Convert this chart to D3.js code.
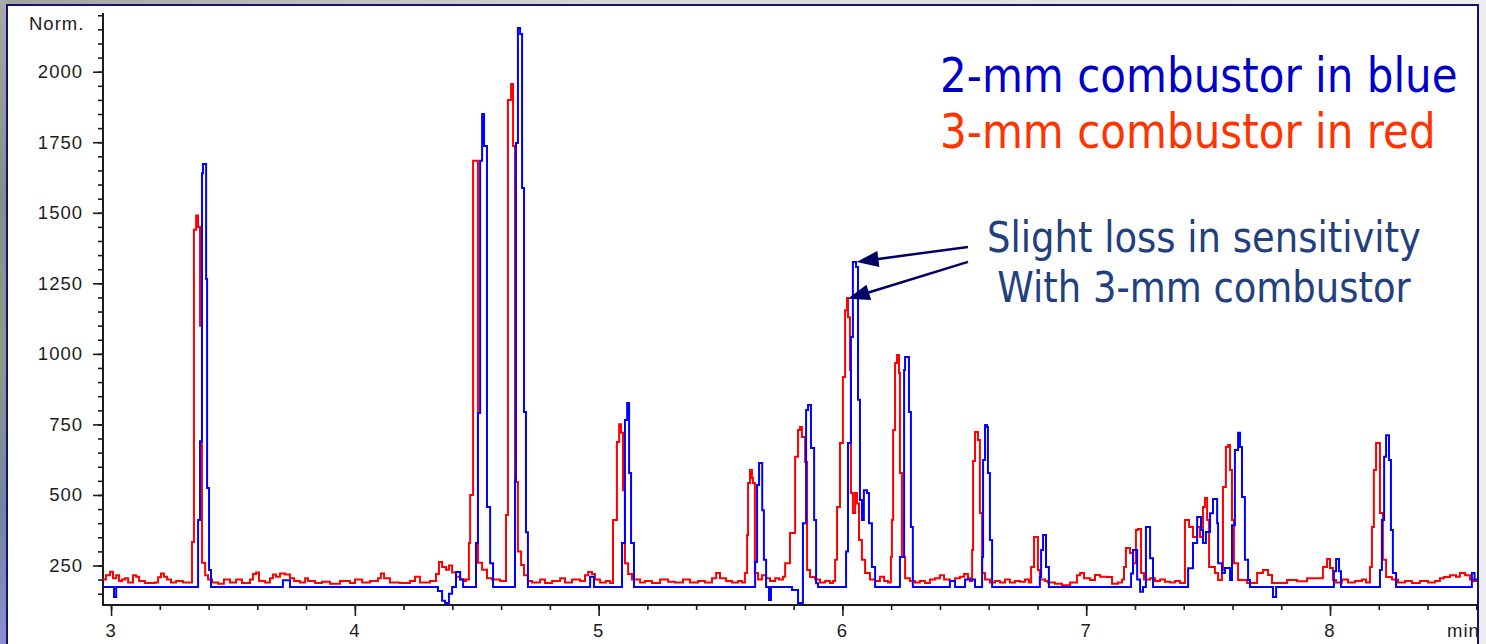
<!DOCTYPE html>
<html>
<head>
<meta charset="utf-8">
<script src="https://cdn.jsdelivr.net/npm/d3@7"></script>
<style>
  html, body { margin: 0; padding: 0; background: #fff; overflow: hidden; }
  svg { display: block; }
</style>
</head>
<body>
<svg id="chart" width="1486" height="644"></svg>
<script>
// FID chromatograms, [retention time (min), detector response (Norm.)]
const blueTrace = [
  [2.967,174],[3.012,138],[3.021,174],
  [3.357,411],[3.365,690],[3.373,1640],[3.377,1673],[3.390,1265],[3.394,525],[3.402,234],[3.410,174],
  [3.705,198],[3.734,174],
  [4.341,160],[4.358,125],[4.370,117],[4.386,150],[4.399,174],[4.415,227],[4.432,200],[4.444,174],
  [4.497,330],[4.505,790],[4.514,1684],[4.522,1850],[4.530,1737],[4.542,457],[4.555,258],[4.567,174],
  [4.657,553],[4.661,1747],[4.669,2155],[4.678,2134],[4.686,1588],[4.694,794],[4.702,368],[4.710,174],
  [4.965,210],[4.981,174],
  [5.096,330],[5.108,766],[5.117,826],[5.125,578],[5.133,330],[5.145,174],
  [5.642,262],[5.650,535],[5.658,613],[5.671,446],[5.678,270],[5.687,174],[5.699,128],[5.707,174],
  [5.793,163],[5.818,117],[5.838,400],[5.851,801],[5.859,819],[5.871,666],[5.884,411],[5.892,187],[5.900,174],
  [6.015,300],[6.023,684],[6.035,1060],[6.043,1326],[6.056,1308],[6.064,837],[6.072,482],[6.080,411],
  [6.088,517],[6.101,507],[6.109,400],[6.121,245],[6.134,174],
  [6.236,280],[6.253,943],[6.257,989],[6.273,794],[6.281,386],[6.289,174],
  [6.441,195],[6.462,174],[6.503,200],[6.544,174],
  [6.573,280],[6.577,624],[6.585,748],[6.593,741],[6.597,578],[6.605,340],[6.614,174],
  [6.810,209],[6.815,305],[6.823,358],[6.835,245],[6.847,174],
  [7.184,222],[7.192,305],[7.209,200],[7.221,157],[7.233,174],[7.245,386],[7.262,276],[7.274,174],
  [7.418,240],[7.438,330],[7.455,422],[7.471,376],[7.479,330],[7.491,369],[7.508,435],[7.520,486],
  [7.537,400],[7.541,258],[7.557,223],[7.569,241],[7.590,199],
  [7.598,393],[7.610,659],[7.623,720],[7.631,670],[7.639,493],[7.651,270],[7.664,199],[7.672,174],
  [7.766,138],[7.779,174],
  [8.016,230],[8.025,273],[8.037,230],[8.045,174],
  [8.205,234],[8.213,411],[8.222,635],[8.230,712],[8.242,624],[8.250,376],[8.258,223],[8.271,174],
  [8.582,223],[8.593,200],[8.603,200]
];

const redTrace = [
  [2.967,200],[2.979,215],[2.996,228],[3.008,205],[3.021,215],[3.033,195],[3.045,200],[3.057,205],
  [3.070,190],[3.090,215],[3.103,210],[3.115,195],[3.139,188],[3.180,190],[3.193,208],[3.205,222],
  [3.217,210],[3.230,200],[3.246,190],[3.267,195],[3.295,190],[3.324,190],
  [3.332,333],[3.340,1440],[3.349,1490],[3.357,1450],[3.365,1100],[3.373,260],[3.386,215],[3.398,200],[3.414,190],
  [3.439,185],[3.463,200],[3.488,190],[3.513,200],[3.537,188],[3.570,200],[3.582,220],[3.595,225],
  [3.607,195],[3.632,190],[3.652,205],[3.664,218],[3.677,210],[3.693,222],[3.714,218],[3.734,205],
  [3.751,195],[3.775,190],[3.796,205],[3.808,195],[3.837,188],[3.865,192],[3.898,185],[3.939,195],
  [3.980,188],[4.001,200],[4.030,190],[4.062,195],[4.095,205],[4.107,222],[4.120,205],[4.144,190],
  [4.185,188],[4.226,195],[4.247,210],[4.267,190],[4.308,195],[4.333,220],[4.345,262],[4.358,245],
  [4.374,235],[4.386,250],[4.399,225],[4.415,210],[4.432,200],[4.448,195],[4.456,200],
  [4.468,330],[4.473,500],[4.485,1684],[4.505,260],[4.522,235],[4.542,205],[4.563,200],[4.596,195],
  [4.620,429],[4.628,1900],[4.641,1956],[4.649,1737],[4.657,546],[4.669,300],[4.682,252],[4.694,215],[4.710,195],
  [4.727,190],[4.760,200],[4.780,188],[4.809,195],[4.842,205],[4.862,190],[4.891,200],[4.924,195],
  [4.944,215],[4.957,227],[4.973,220],[4.985,200],[5.006,190],[5.030,195],[5.047,188],
  [5.059,411],[5.075,688],[5.084,751],[5.092,720],[5.100,517],[5.108,258],[5.121,220],[5.137,200],[5.170,190],
  [5.190,195],[5.219,188],[5.252,200],[5.285,192],[5.313,190],[5.346,200],[5.375,190],[5.408,195],
  [5.436,190],[5.465,205],[5.482,223],[5.498,205],[5.523,195],[5.547,190],[5.572,195],[5.588,190],
  [5.600,223],[5.609,358],[5.613,542],[5.621,588],[5.629,560],[5.633,542],[5.641,223],[5.654,200],
  [5.670,215],[5.687,205],[5.703,195],[5.724,205],[5.740,200],[5.756,210],
  [5.765,258],[5.785,365],[5.806,635],[5.818,730],[5.826,741],[5.834,705],[5.847,617],[5.855,234],
  [5.867,209],[5.888,200],[5.908,190],[5.929,195],[5.949,188],[5.961,195],
  [5.970,270],[5.978,457],[5.990,684],[6.002,918],[6.011,1155],[6.019,1198],[6.023,1130],[6.031,943],
  [6.035,507],[6.043,436],[6.052,507],[6.060,470],[6.068,340],[6.080,270],[6.093,223],[6.113,200],
  [6.134,195],[6.154,210],[6.171,195],[6.187,190],
  [6.199,280],[6.203,411],[6.208,730],[6.216,968],[6.224,996],[6.232,932],[6.236,578],[6.244,280],
  [6.257,205],[6.277,195],[6.298,190],[6.318,195],[6.339,188],[6.359,200],[6.380,205],[6.400,215],
  [6.417,200],[6.441,195],[6.462,205],[6.482,210],[6.499,220],[6.515,205],[6.523,195],
  [6.532,305],[6.536,620],[6.544,723],[6.556,695],[6.564,436],[6.573,223],[6.585,200],[6.605,190],
  [6.626,195],[6.646,190],[6.667,200],[6.687,190],[6.708,195],[6.728,192],[6.749,200],[6.765,190],
  [6.774,245],[6.786,351],[6.802,234],[6.810,200],[6.831,195],[6.843,190],[6.872,185],[6.901,180],
  [6.934,190],[6.962,215],[6.975,223],[6.991,205],[7.016,199],[7.036,216],[7.057,210],[7.085,209],
  [7.106,185],[7.130,190],[7.147,200],
  [7.155,245],[7.163,312],[7.180,294],[7.192,258],[7.204,376],[7.212,379],[7.225,223],[7.237,200],
  [7.262,205],[7.282,195],[7.303,200],[7.323,192],[7.344,190],[7.364,195],[7.385,188],
  [7.405,411],[7.422,386],[7.438,351],[7.455,386],[7.467,351],[7.479,457],[7.487,489],[7.496,411],
  [7.504,245],[7.528,223],[7.541,199],[7.557,234],
  [7.561,528],[7.573,670],[7.582,677],[7.590,588],[7.598,411],[7.606,258],[7.623,199],[7.660,188],
  [7.701,223],[7.725,234],[7.746,216],[7.762,188],[7.795,188],[7.824,199],[7.865,194],[7.906,205],[7.947,205],
  [7.971,245],[7.988,273],[8.000,241],[8.012,199],[8.025,190],[8.049,200],[8.074,190],[8.102,195],
  [8.131,200],[8.148,190],
  [8.164,245],[8.172,386],[8.180,588],[8.189,684],[8.205,436],[8.217,270],[8.230,209],[8.254,200],
  [8.279,190],[8.308,195],[8.336,188],[8.369,195],[8.402,190],[8.431,195],[8.451,205],[8.467,209],
  [8.492,215],[8.517,210],[8.533,223],[8.554,215],[8.574,200],[8.590,195],[8.603,195]
];

const timeTicks = [3, 4, 5, 6, 7, 8];
const signalTicks = [250, 500, 750, 1000, 1250, 1500, 1750, 2000];
const legendLines = [
  { text: "2-mm combustor in blue", color: "#0000c8" },
  { text: "3-mm combustor in red", color: "#ff3300" }
];
const noteLines = ["Slight loss in sensitivity", "With 3-mm combustor"];
// arrow tails and heads, in [min, Norm.]
const noteArrows = [
  { from: [6.515, 1379], to: [6.058, 1326] },
  { from: [6.515, 1326], to: [6.022, 1195] }
];

const W = 1486, H = 644;
const svg = d3.select("#chart");
const defs = svg.append("defs");

// slide backdrop behind the chart frame
const bg = defs.append("linearGradient").attr("id", "slideBg")
  .attr("x1", 0).attr("y1", 0).attr("x2", 0).attr("y2", 1);
[["0", "#a9aaa8"], ["0.3", "#858c90"], ["0.55", "#8e9a8c"], ["0.8", "#7483a6"], ["1", "#8c8fd0"]]
  .forEach(([o, c]) => bg.append("stop").attr("offset", o).attr("stop-color", c));
const topBg = defs.append("linearGradient").attr("id", "slideTop")
  .attr("x1", 0).attr("y1", 0).attr("x2", 1).attr("y2", 0);
[["0", "#a0a2a0"], ["0.4", "#d6d6d6"], ["1", "#eeeeee"]]
  .forEach(([o, c]) => topBg.append("stop").attr("offset", o).attr("stop-color", c));

svg.append("rect").attr("width", W).attr("height", H).attr("fill", "#ececef");
svg.append("rect").attr("width", W).attr("height", 6).attr("fill", "url(#slideTop)");
svg.append("rect").attr("width", 8).attr("height", H).attr("fill", "url(#slideBg)");

// chart frame
svg.append("rect")
  .attr("x", 7).attr("y", 5).attr("width", 1471).attr("height", 660)
  .attr("fill", "#fff").attr("stroke", "#14146e").attr("stroke-width", 2);

const x = d3.scaleLinear().domain([2.967, 8.603]).range([103, 1477]);
const y = d3.scaleLinear().domain([110, 2208]).range([605, 13]);

defs.append("clipPath").attr("id", "plotClip")
  .append("rect").attr("x", 103).attr("y", 8).attr("width", 1374).attr("height", 600);
defs.append("clipPath").attr("id", "frameClip")
  .append("rect").attr("x", 8).attr("y", 6).attr("width", 1469).attr("height", 660);

const tickFont = "'Liberation Sans', Arial, sans-serif";
const axisColor = "#1c1c1c";
const styleTickText = sel => sel
  .attr("font-family", tickFont).attr("font-size", 18.5)
  .attr("letter-spacing", 1).attr("fill", axisColor);

// x axis: minor ticks every 0.2 min, longer ticks each minute
[[d3.range(3, 8.61, 0.2), 5], [timeTicks, 11]].forEach(([vals, size]) => {
  const g = svg.append("g").attr("transform", "translate(0,605)")
    .call(d3.axisBottom(x).tickValues(vals).tickSize(size).tickSizeOuter(0).tickFormat(""));
  g.select(".domain").remove();
  g.selectAll("line").attr("stroke", axisColor).attr("stroke-width", 1.6);
});
// y axis: minor ticks every 50, longer ticks every 250
[[d3.range(150, 2201, 50), 5], [signalTicks, 10]].forEach(([vals, size]) => {
  const g = svg.append("g").attr("transform", "translate(103,0)")
    .call(d3.axisLeft(y).tickValues(vals).tickSize(size).tickSizeOuter(0).tickFormat(""));
  g.select(".domain").remove();
  g.selectAll("line").attr("stroke", axisColor).attr("stroke-width", 1.6);
});

svg.append("g").selectAll("text").data(timeTicks).join("text")
  .attr("x", d => x(d)).attr("y", 637).attr("text-anchor", "middle")
  .call(styleTickText).text(d => d);

// y labels: left-anchored, with the right edge placed 20px left of the axis
const yLabelRight = 83;
svg.append("g").selectAll("text").data(signalTicks).join("text")
  .attr("x", 0).attr("y", d => y(d) + 6.5)
  .call(styleTickText).text(d => d)
  .each(function () {
    const w = this.getComputedTextLength();
    d3.select(this).attr("x", yLabelRight - w);
  });

svg.append("line").attr("x1", 103).attr("x2", 1477).attr("y1", 605).attr("y2", 605)
  .attr("stroke", axisColor).attr("stroke-width", 2);
svg.append("line").attr("x1", 103).attr("x2", 103).attr("y1", 13).attr("y2", 606)
  .attr("stroke", axisColor).attr("stroke-width", 2);

svg.append("text").attr("x", 29).attr("y", 29.5).text("Norm.").call(styleTickText);
svg.append("g").attr("clip-path", "url(#frameClip)")
  .append("text").attr("x", 1447).attr("y", 637).text("min").call(styleTickText);

// traces
const line = d3.line().x(d => x(d[0])).y(d => y(d[1])).curve(d3.curveStepAfter);
const plot = svg.append("g").attr("clip-path", "url(#plotClip)");
plot.append("path").datum(redTrace).attr("d", line)
  .attr("fill", "none").attr("stroke", "#ff0000").attr("stroke-width", 2).attr("stroke-linejoin", "miter");
plot.append("path").datum(blueTrace).attr("d", line)
  .attr("fill", "none").attr("stroke", "#0000ff").attr("stroke-width", 2).attr("stroke-linejoin", "miter");

// legend text, horizontally condensed
const textFont = "'DejaVu Sans', Tahoma, Verdana, sans-serif";
legendLines.forEach((l, i) => {
  svg.append("text")
    .attr("transform", `translate(940,${92 + i * 56}) scale(0.876,1)`)
    .attr("font-family", textFont).attr("font-size", 48)
    .attr("fill", l.color).text(l.text);
});

// annotation
noteLines.forEach((t, i) => {
  svg.append("text")
    .attr("transform", `translate(1204,${252 + i * 50}) scale(0.88,1)`)
    .attr("text-anchor", "middle")
    .attr("font-family", textFont).attr("font-size", 42)
    .attr("fill", "#22407e").text(t);
});

const arrowColor = "#000066";
noteArrows.forEach(a => {
  const x0 = x(a.from[0]), y0 = y(a.from[1]);
  const x1 = x(a.to[0]), y1 = y(a.to[1]);
  const dx = x1 - x0, dy = y1 - y0, len = Math.hypot(dx, dy);
  const ux = dx / len, uy = dy / len;
  const head = 22, half = 8;
  const bx = x1 - ux * head, by = y1 - uy * head;
  svg.append("line").attr("x1", x0).attr("y1", y0).attr("x2", bx + ux * 2).attr("y2", by + uy * 2)
    .attr("stroke", arrowColor).attr("stroke-width", 2.5);
  svg.append("polygon")
    .attr("points", [[x1, y1], [bx - uy * half, by + ux * half], [bx + uy * half, by - ux * half]].map(p => p.join(",")).join(" "))
    .attr("fill", arrowColor);
});
</script>
</body>
</html>
